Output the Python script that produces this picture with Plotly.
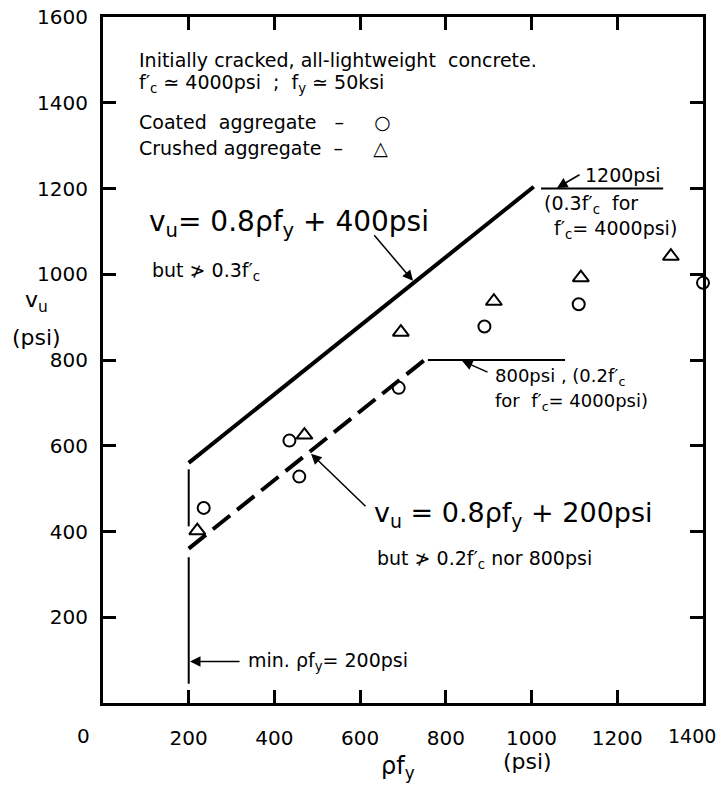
import plotly.graph_objects as go

# ---------------- data ----------------
coated_x = [235, 435, 458, 690, 890, 1110, 1400]
coated_y = [455, 612, 528, 735, 878, 930, 980]
crushed_x = [220, 470, 695, 912, 1115, 1325]
crushed_y = [402, 625, 865, 937, 992, 1042]

upper_x = [200, 1005]          # v_u = 0.8 rho fy + 400 psi
upper_y = [560, 1204]
upper_cap_x = [1022, 1307]     # 1200 psi limit
upper_cap_y = [1200, 1200]

lower_x = [200, 750]           # v_u = 0.8 rho fy + 200 psi
lower_y = [360, 800]
lower_cap_x = [758, 1078]      # 800 psi limit
lower_cap_y = [800, 800]

min_x = [200, 200, None, 200, 200]   # min rho fy = 200 psi
min_y = [545, 412, None, 340, 45]

x_ticks = [200, 400, 600, 800, 1000, 1200, 1400]
x_tick_labels = ["200", "400", "600", "800", "1000", "1200", ""]
y_ticks = [200, 400, 600, 800, 1000, 1200, 1400, 1600]
y_tick_labels = ["200", "400", "600", "800", "1000", "1200", "1400", "1600"]

FONT = "DejaVu Sans"
BLACK = "black"

fig = go.Figure()

fig.add_trace(go.Scatter(x=upper_x, y=upper_y, mode="lines",
                         line=dict(color=BLACK, width=4), hoverinfo="skip"))
fig.add_trace(go.Scatter(x=upper_cap_x, y=upper_cap_y, mode="lines",
                         line=dict(color=BLACK, width=2), hoverinfo="skip"))
fig.add_trace(go.Scatter(x=lower_x, y=lower_y, mode="lines",
                         line=dict(color=BLACK, width=4, dash="22px,9px"), hoverinfo="skip"))
fig.add_trace(go.Scatter(x=lower_cap_x, y=lower_cap_y, mode="lines",
                         line=dict(color=BLACK, width=2), hoverinfo="skip"))
fig.add_trace(go.Scatter(x=min_x, y=min_y, mode="lines",
                         line=dict(color=BLACK, width=2), hoverinfo="skip"))

fig.add_trace(go.Scatter(x=coated_x, y=coated_y, mode="markers", cliponaxis=False,
                         marker=dict(symbol="circle-open", size=12, color=BLACK,
                                     line=dict(width=2, color=BLACK))))
fig.add_trace(go.Scatter(x=crushed_x, y=crushed_y, mode="markers", cliponaxis=False,
                         marker=dict(symbol="triangle-up-open", size=14, color=BLACK,
                                     line=dict(width=2, color=BLACK))))

# plot-area pixel geometry (for placing text)
L, R, T, B = 103, 703, 17, 703.5
def dx(px):
    return (px - L) / (R - L) * 1400
def dy(py):
    return (B - py) / (B - T) * 1600
def pxp(px):
    return (px - L) / (R - L)
def pyp(py):
    return (B - py) / (B - T)

NB = "\u00a0"
S = 19
def txt(s, px, py, size=S, xanchor="left"):
    fig.add_annotation(x=pxp(px), y=pyp(py), xref="paper", yref="paper", text=s,
                       showarrow=False, xanchor=xanchor, yanchor="middle",
                       font=dict(family=FONT, size=size, color=BLACK))

fc = "f′<sub>c</sub>"
txt(f"Initially cracked,{NB}all-lightweight{NB}{NB}concrete.", 137, 60)
txt(f"{fc} ≃ 4000psi{NB} ;{NB} f<sub>y</sub> ≃ 50ksi", 137, 84)
txt(f"Coated{NB}{NB}aggregate{NB}{NB}{NB}–{NB}{NB}{NB}{NB}{NB}○", 137, 122)
txt(f"Crushed{NB}aggregate{NB}{NB}–{NB}{NB}{NB}{NB}{NB}△", 137, 148)

txt("v<sub>u</sub>= 0.8ρf<sub>y</sub> + 400psi", 147, 224, size=28)
txt(f"but ≯ 0.3{fc}", 150, 272)

txt("1200psi", 583, 175)
txt(f"(0.3{fc}{NB} for", 542, 205)
txt(f"{fc}= 4000psi)", 552, 230)

txt(f"800psi , (0.2{fc}", 493, 377, size=18)
txt(f"for{NB} {fc}= 4000psi)", 493, 402, size=18)

txt("v<sub>u</sub> = 0.8ρf<sub>y</sub> + 200psi", 372, 515, size=27)
txt(f"but ≯ 0.2{fc} nor 800psi", 375, 560)

txt("min. ρf<sub>y</sub>= 200psi", 246, 662)

# axis titles / stray labels
txt("v<sub>u</sub>", 36, 302, size=22, xanchor="center")
txt("(psi)", 36, 338, size=22, xanchor="center")
txt("ρf<sub>y</sub>", 398, 768, size=24, xanchor="center")
txt("(psi)", 527, 762, size=22, xanchor="center")
txt("0", 83, 737, size=20, xanchor="center")
txt("1400", 718, 737, size=19, xanchor="right")

# arrows
def arrow(hx, hy, tx, ty):
    fig.add_annotation(x=dx(hx), y=dy(hy), ax=dx(tx), ay=dy(ty),
                       xref="x", yref="y", axref="x", ayref="y", text="",
                       showarrow=True, arrowhead=2, arrowsize=1.4, arrowwidth=1.5,
                       arrowcolor=BLACK, standoff=0)

arrow(413, 281, 373, 234)
arrow(311, 454, 367, 508)
arrow(190, 662, 241, 662)
arrow(557, 188, 581, 174)
arrow(462, 361, 489, 373)

axis_common = dict(showline=True, linecolor=BLACK, linewidth=3, mirror="ticks",
                   ticks="inside", ticklen=13, tickwidth=2.5, tickcolor=BLACK,
                   showgrid=False, zeroline=False, automargin=False,
                   tickfont=dict(family=FONT, size=20, color=BLACK))

fig.update_xaxes(range=[0, 1400], tickvals=x_ticks,
                 ticktext=x_tick_labels, ticklabelstandoff=15,
                 **axis_common)
fig.update_yaxes(range=[0, 1600], tickvals=y_ticks,
                 ticktext=y_tick_labels, ticklabelstandoff=8,
                 **axis_common)

fig.update_layout(width=721, height=790, showlegend=False,
                  paper_bgcolor="white", plot_bgcolor="white",
                  margin=dict(l=L, r=721 - R, t=T, b=790 - 703),
                  font=dict(family=FONT, color=BLACK))

fig.write_html("out.html")
